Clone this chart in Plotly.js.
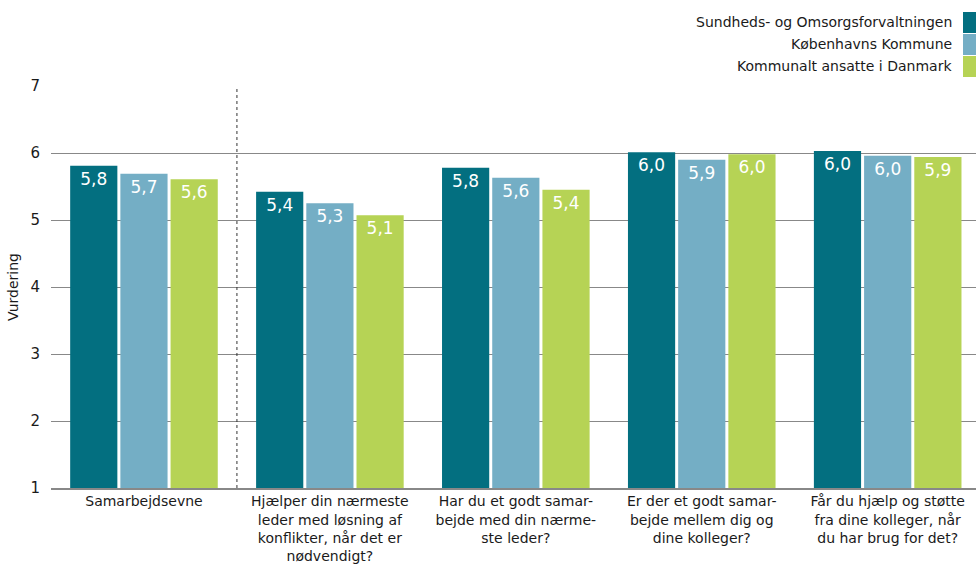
<!DOCTYPE html>
<html><head><meta charset="utf-8">
<script src="https://cdn.plot.ly/plotly-3.0.1.min.js"></script>
<style>body{margin:0;padding:0;background:#fff}#chart{width:976px;height:571px}</style>
</head><body><div id="chart"></div>
<script>
const categories = [
  "Samarbejdsevne",
  "Hjælper din nærmeste<br>leder med løsning af<br>konflikter, når det er<br>nødvendigt?",
  "Har du et godt samar-<br>bejde med din nærme-<br>ste leder?",
  "Er der et godt samar-<br>bejde mellem dig og<br>dine kolleger?",
  "Får du hjælp og støtte<br>fra dine kolleger, når<br>du har brug for det?"
];
const seriesNames = ["Sundheds- og Omsorgsforvaltningen", "Københavns Kommune", "Kommunalt ansatte i Danmark"];
const sofValues = [5.81, 5.42, 5.78, 6.01, 6.03];
const kkValues = [5.69, 5.25, 5.63, 5.90, 5.96];
const dkValues = [5.61, 5.07, 5.45, 5.98, 5.94];
const sofLabels = ["5,8", "5,4", "5,8", "6,0", "6,0"];
const kkLabels = ["5,7", "5,3", "5,6", "5,9", "6,0"];
const dkLabels = ["5,6", "5,1", "5,4", "6,0", "5,9"];
const yTicks = [1, 2, 3, 4, 5, 6, 7];
const colors = ["#036f80", "#74aec5", "#b6d355"];

const xIdx = categories.map((_, i) => i);
const font = "DejaVu Sans, Verdana, sans-serif";
function bar(vals, labels, name, color) {
  return {
    type: "bar", x: xIdx, y: vals, name: name,
    marker: {color: color, line: {width: 0}},
    text: labels, textposition: "inside", insidetextanchor: "end",
    textangle: 0, constraintext: "none",
    insidetextfont: {family: font, size: 17, color: "#ffffff"},
    hoverinfo: "skip", showlegend: false, cliponaxis: true
  };
}
const data = [
  bar(sofValues, sofLabels, seriesNames[0], colors[0]),
  bar(kkValues, kkLabels, seriesNames[1], colors[1]),
  bar(dkValues, dkLabels, seriesNames[2], colors[2])
];

const annotations = seriesNames.map((n, i) => ({
  xref: "paper", yref: "paper", x: 0.976, y: 1 + (64 - 22 * i) / 402,
  xanchor: "right", yanchor: "middle", showarrow: false, text: n,
  font: {family: font, size: 14, color: "#1a1a1a"}
}));
const shapes = [{
  type: "line", xref: "x", yref: "paper", x0: 0.5, x1: 0.5, y0: 0, y1: 1,
  line: {color: "#333", width: 1, dash: "dot"}
}].concat(seriesNames.map((n, i) => ({
  type: "rect", xref: "paper", yref: "paper",
  x0: 1 - 13 / 925, x1: 1.01,
  y0: 1 + (53 - 22 * i) / 402, y1: 1 + (74 - 22 * i) / 402,
  fillcolor: colors[i], line: {width: 0}
})));

const layout = {
  width: 976, height: 571,
  margin: {l: 51, r: 0, t: 86, b: 83},
  paper_bgcolor: "#fff", plot_bgcolor: "#fff",
  font: {family: font, size: 14, color: "#1a1a1a"},
  barmode: "group", bargap: 0.19, bargroupgap: 0.06,
  showlegend: false,
  xaxis: {
    range: [-0.5, 4.475], tickvals: xIdx, ticktext: categories,
    showgrid: false, zeroline: false, showline: true, linecolor: "#888", linewidth: 1.5,
    ticks: "", tickfont: {family: font, size: 14, color: "#1a1a1a"}
  },
  yaxis: {
    range: [1, 7], tickvals: yTicks, ticktext: yTicks.map(String),
    showgrid: true, gridcolor: "#888", gridwidth: 1, zeroline: false, showline: false,
    ticks: "", ticklabelstandoff: 10,
    tickfont: {family: font, size: 15, color: "#1a1a1a"},
    title: {text: "Vurdering", standoff: 8, font: {family: font, size: 14, color: "#1a1a1a"}}
  },
  annotations: annotations,
  shapes: shapes
};
Plotly.newPlot("chart", data, layout, {displayModeBar: false, staticPlot: true});
</script></body></html>
